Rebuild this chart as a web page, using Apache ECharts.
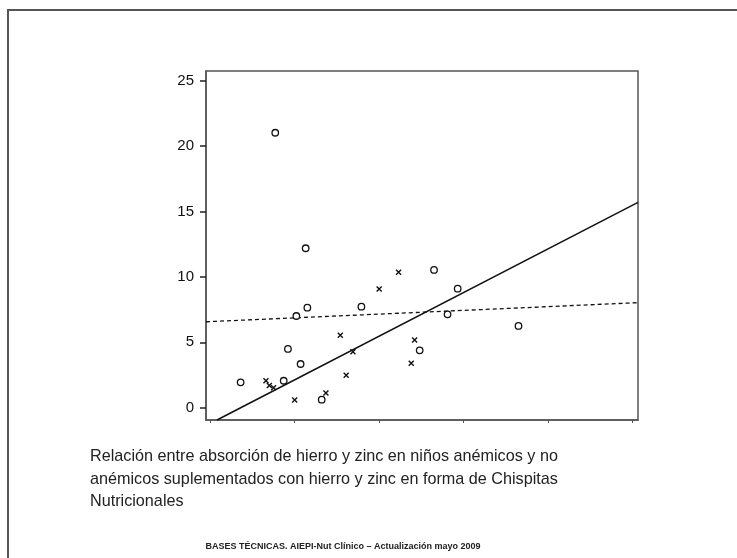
<!DOCTYPE html>
<html>
<head>
<meta charset="utf-8">
<script src="https://cdn.jsdelivr.net/npm/echarts@6/dist/echarts.min.js"></script>
<style>
  html, body { margin: 0; padding: 0; background: #fff; }
  #chart { width: 737px; height: 558px; }
</style>
</head>
<body>
<div id="chart"></div>
<script>
// Anémicos (o) y no anémicos (x): pares [absorción de hierro, absorción de zinc]
const anemicos = [
  [0.36, 1.94], [0.77, 21.02], [1.13, 12.19], [1.15, 7.65], [1.02, 7.01],
  [1.79, 7.72], [0.92, 4.49], [1.07, 3.34], [0.87, 2.06], [1.32, 0.61],
  [2.65, 10.53], [2.93, 9.10], [2.81, 7.14], [3.65, 6.25], [2.48, 4.39]
];
const noAnemicos = [
  [0.66, 2.06], [0.70, 1.70], [0.75, 1.53], [1.00, 0.59], [1.37, 1.12],
  [1.54, 5.54], [1.69, 4.28], [1.61, 2.48], [2.00, 9.07], [2.23, 10.35],
  [2.42, 5.18], [2.38, 3.39]
];
// Rectas de regresión (extremos)
const rectaAnemicos = [[-0.05, 6.57], [5.065, 8.03]];
const rectaNoAnemicos = [[0.08, -0.94], [5.065, 15.70]];
const yTicks = [0, 5, 10, 15, 20, 25];
const xTicks = [0, 1, 2, 3, 4, 5];

const leyenda = [
  'Relación entre absorción de hierro y zinc en niños anémicos y no',
  'anémicos suplementados con hierro y zinc en forma de Chispitas',
  'Nutricionales'
];
const pie = 'BASES TÉCNICAS. AIEPI-Nut Clínico – Actualización mayo 2009';

const chart = echarts.init(document.getElementById('chart'), null, { renderer: 'canvas' });
const frameColor = '#555';

chart.setOption({
  animation: false,
  backgroundColor: '#fff',
  grid: {
    left: 206, top: 71, right: 99, bottom: 138,
    show: true, borderColor: frameColor, borderWidth: 1.5, backgroundColor: 'transparent'
  },
  xAxis: {
    type: 'value', min: -0.05, max: 5.065,
    axisLine: { show: true, onZero: false, lineStyle: { color: frameColor, width: 1.5 } },
    axisTick: { show: true, inside: false, length: 3, customValues: xTicks, lineStyle: { color: frameColor } },
    axisLabel: { show: false },
    splitLine: { show: false }
  },
  yAxis: {
    type: 'value', min: -0.94, max: 25.74,
    axisLine: { show: true, onZero: false, lineStyle: { color: frameColor, width: 1.5 } },
    axisTick: { show: true, inside: false, length: 6, customValues: yTicks, lineStyle: { color: '#222', width: 1.5 } },
    axisLabel: {
      show: true, customValues: yTicks, margin: 12,
      fontFamily: 'Liberation Sans, Arial, sans-serif', fontSize: 15, color: '#111'
    },
    splitLine: { show: false }
  },
  series: [
    {
      type: 'line', data: rectaNoAnemicos, symbol: 'none', clip: true,
      lineStyle: { color: '#111', width: 1.5 }, z: 2
    },
    {
      type: 'line', data: rectaAnemicos, symbol: 'none', clip: true,
      lineStyle: { color: '#111', width: 1.3, type: [4, 3] }, z: 2
    },
    {
      type: 'scatter', data: anemicos, symbol: 'circle', symbolSize: 6.5,
      itemStyle: { color: '#fff', borderColor: '#111', borderWidth: 1.3, opacity: 1 }, z: 3
    },
    {
      type: 'scatter', data: noAnemicos,
      symbol: 'path://M0,0L10,10M10,0L0,10', symbolSize: 5,
      itemStyle: { color: 'none', borderColor: '#111', borderWidth: 1.4, opacity: 1 }, z: 3
    }
  ],
  graphic: [
    // Marco de la diapositiva (bordes superior e izquierdo)
    { type: 'line', shape: { x1: 7, y1: 10, x2: 737, y2: 10 }, style: { stroke: frameColor, lineWidth: 2 } },
    { type: 'line', shape: { x1: 8, y1: 10, x2: 8, y2: 558 }, style: { stroke: frameColor, lineWidth: 2 } },
    ...leyenda.map((t, i) => ({
      type: 'text', left: 90, top: 449 + i * 22.3,
      style: { text: t, fill: '#222', font: '16.2px "Liberation Sans", Arial, sans-serif' }
    })),
    {
      type: 'text', x: 343, y: 547,
      style: {
        text: pie, fill: '#222', align: 'center', verticalAlign: 'middle',
        font: 'bold 9px "Liberation Sans", Arial, sans-serif'
      }
    }
  ]
});
</script>
</body>
</html>
